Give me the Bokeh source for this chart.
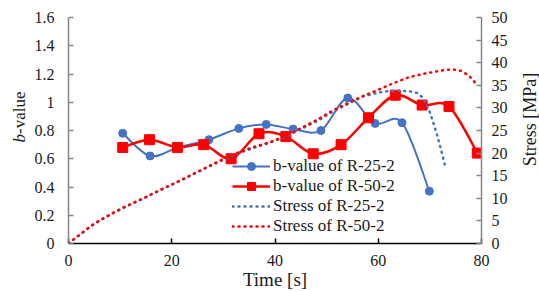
import math
from bokeh.plotting import figure
from bokeh.models import (Range1d, LinearAxis, FixedTicker, Legend, LegendItem,
                          Label, ColumnDataSource)
from bokeh.embed import file_html
from bokeh.resources import INLINE

# ---------------- data ----------------
b25_time = [10.5, 15.8, 21.2, 27.2, 33.0, 38.3, 43.5, 48.9, 54.1, 59.4, 64.6, 69.9]
b25_value = [0.78, 0.62, 0.68, 0.735, 0.815, 0.843, 0.81, 0.80, 1.03, 0.85, 0.855, 0.37]

b50_time = [10.5, 15.7, 21.1, 26.2, 31.5, 36.9, 42.1, 47.4, 52.8, 58.1, 63.3, 68.5, 73.7, 79.2]
b50_value = [0.68, 0.735, 0.68, 0.70, 0.60, 0.777, 0.757, 0.635, 0.70, 0.89, 1.05, 0.98, 0.97, 0.64]

s25_time = [0, 1, 2, 3, 4, 5, 6, 8, 10, 12, 15, 18, 21, 24, 27, 30, 33, 36, 39, 42, 45,
            48, 51, 54, 57, 60, 62, 64, 66, 67.5, 68.5, 69.3, 70, 70.7, 71.4, 72.2, 73]
s25_stress = [0, 0.9, 1.8, 2.6, 3.5, 4.3, 5.0, 6.3, 7.5, 8.6, 10.2, 11.9, 13.5, 15.2, 16.9,
              18.5, 20.0, 21.2, 22.3, 23.6, 25.3, 27.0, 29.0, 30.8, 32.5, 33.4, 33.7, 33.8,
              33.7, 33.3, 32.4, 31.0, 29.0, 26.6, 24.0, 20.6, 16.9]

s50_time = [0, 1, 2, 3, 4, 5, 6, 8, 10, 12, 15, 18, 21, 24, 27, 30, 33, 36, 39, 42, 45,
            48, 51, 54, 57, 60, 63, 66, 69, 71, 73, 74.5, 76, 77.5, 78.5, 79]
s50_stress = [0, 0.9, 1.8, 2.7, 3.6, 4.4, 5.1, 6.4, 7.6, 8.7, 10.3, 12.0, 13.6, 15.3, 17.0,
              18.7, 20.2, 21.4, 22.4, 23.8, 25.5, 27.3, 29.3, 31.0, 32.6, 34.0, 35.5, 36.8,
              37.6, 38.0, 38.4, 38.5, 38.2, 37.2, 36.0, 35.0]

x_ticks = [0, 20, 40, 60, 80]
x_tick_labels = ["0", "20", "40", "60", "80"]
b_ticks = [0, 0.2, 0.4, 0.6, 0.8, 1.0, 1.2, 1.4, 1.6]
b_tick_labels = ["0", "0.2", "0.4", "0.6", "0.8", "1", "1.2", "1.4", "1.6"]
s_ticks = [0, 5, 10, 15, 20, 25, 30, 35, 40, 45, 50]
s_tick_labels = ["0", "5", "10", "15", "20", "25", "30", "35", "40", "45", "50"]

series_labels = ["b-value of R-25-2", "b-value of R-50-2", "Stress of R-25-2", "Stress of R-50-2"]
x_title = "Time [s]"
y_title_italic = "b"
y_title_rest = "-value"
y2_title = "Stress [MPa]"

BLUE = "#4472C4"
RED = "#FF0000"
FONT = "Liberation Serif"
TXT = "#1a1a1a"


def smooth_segments(xs, ys):
    """Bezier control points for a smoothed line through the points (Catmull-Rom)."""
    n = len(xs)
    d = dict(x0=[], y0=[], x1=[], y1=[], cx0=[], cy0=[], cx1=[], cy1=[])
    for i in range(n - 1):
        xa, ya = (xs[i - 1], ys[i - 1]) if i > 0 else (xs[i], ys[i])
        xb, yb = xs[i], ys[i]
        xc, yc = xs[i + 1], ys[i + 1]
        xd, yd = (xs[i + 2], ys[i + 2]) if i + 2 < n else (xs[i + 1], ys[i + 1])
        d["x0"].append(xb); d["y0"].append(yb)
        d["x1"].append(xc); d["y1"].append(yc)
        d["cx0"].append(xb + (xc - xa) / 6.0); d["cy0"].append(yb + (yc - ya) / 6.0)
        d["cx1"].append(xc - (xd - xb) / 6.0); d["cy1"].append(yc - (yd - yb) / 6.0)
    return ColumnDataSource(d)


p = figure(width=539, height=291, output_backend="svg", toolbar_location=None,
           x_range=Range1d(0, 80), y_range=Range1d(0, 1.6),
           min_border_left=68, min_border_right=58, min_border_top=17, min_border_bottom=48)
p.extra_y_ranges = {"stress": Range1d(0, 50)}
p.outline_line_color = None
p.xgrid.visible = False
p.ygrid.visible = False
p.background_fill_color = "white"
p.border_fill_color = "white"

# b-value series
r_b25_line = p.bezier(x0="x0", y0="y0", x1="x1", y1="y1", cx0="cx0", cy0="cy0",
                      cx1="cx1", cy1="cy1", source=smooth_segments(b25_time, b25_value),
                      line_color=BLUE, line_width=2)
r_b25_pts = p.scatter(b25_time, b25_value, marker="circle", size=8,
                      fill_color=BLUE, line_color=BLUE)
r_b50_line = p.bezier(x0="x0", y0="y0", x1="x1", y1="y1", cx0="cx0", cy0="cy0",
                      cx1="cx1", cy1="cy1", source=smooth_segments(b50_time, b50_value),
                      line_color=RED, line_width=2.5)
r_b50_pts = p.scatter(b50_time, b50_value, marker="square", size=10,
                      fill_color=RED, line_color=RED)

# stress series (secondary axis)
r_s25 = p.line(s25_time, s25_stress, y_range_name="stress", line_color=BLUE,
               line_width=2.5, line_dash="1 5", line_cap="round")
r_s50 = p.line(s50_time, s50_stress, y_range_name="stress", line_color=RED,
               line_width=2.5, line_dash="1 5", line_cap="round")

# axes
p.xaxis.ticker = FixedTicker(ticks=x_ticks)
p.xaxis.major_label_overrides = dict(zip(x_ticks, x_tick_labels))
p.yaxis.ticker = FixedTicker(ticks=b_ticks)
p.yaxis.major_label_overrides = dict(zip(b_ticks, b_tick_labels))

right = LinearAxis(y_range_name="stress", ticker=FixedTicker(ticks=s_ticks))
right.major_label_overrides = dict(zip(s_ticks, s_tick_labels))
p.add_layout(right, "right")

left = p.left[0]
bottom = p.below[0]
for ax, col in ((bottom, "black"), (left, "#868686"), (right, "#868686")):
    ax.axis_line_color = col
    ax.axis_line_width = 1.5
    ax.major_tick_line_color = col
    ax.major_tick_line_width = 1.5
    ax.major_tick_in = 5
    ax.major_tick_out = 0
    ax.minor_tick_line_color = None
    ax.major_label_text_font = FONT
    ax.major_label_text_font_size = "16px"
    ax.major_label_text_color = TXT
bottom.major_label_standoff = 11
left.major_label_standoff = 14
right.major_label_standoff = 10

# axis titles as text labels (in the side panels so that they are not clipped)
lab_kw = dict(text_font=FONT, text_color=TXT)
p.add_layout(Label(x=40, y=-0.255, text=x_title, text_align="center",
                   text_baseline="alphabetic", text_font_size="19px", **lab_kw), "below")
p.add_layout(Label(x=-9.4, y=0.715, text=y_title_italic, angle=math.pi / 2,
                   text_align="left", text_baseline="middle", text_font_size="17px",
                   text_font_style="italic", **lab_kw), "above")
p.add_layout(Label(x=-9.4, y=0.775, text=y_title_rest, angle=math.pi / 2,
                   text_align="left", text_baseline="middle", text_font_size="17px",
                   **lab_kw), "left")
p.add_layout(Label(x=89.3, y=0.878, text=y2_title, angle=math.pi / 2,
                   text_align="center", text_baseline="middle", text_font_size="18px",
                   **lab_kw), "right")

legend = Legend(items=[
    LegendItem(label=series_labels[0], renderers=[r_b25_line, r_b25_pts]),
    LegendItem(label=series_labels[1], renderers=[r_b50_line, r_b50_pts]),
    LegendItem(label=series_labels[2], renderers=[r_s25]),
    LegendItem(label=series_labels[3], renderers=[r_s50]),
], location=(164, 7))
legend.border_line_color = None
legend.background_fill_alpha = 0
legend.padding = 0
legend.margin = 0
legend.spacing = -2
legend.glyph_width = 38
legend.glyph_height = 20
legend.label_height = 20
legend.label_standoff = 3
legend.label_text_font = FONT
legend.label_text_font_size = "17px"
legend.label_text_color = TXT
p.add_layout(legend)

open("out.html", "w").write(file_html(p, INLINE))
